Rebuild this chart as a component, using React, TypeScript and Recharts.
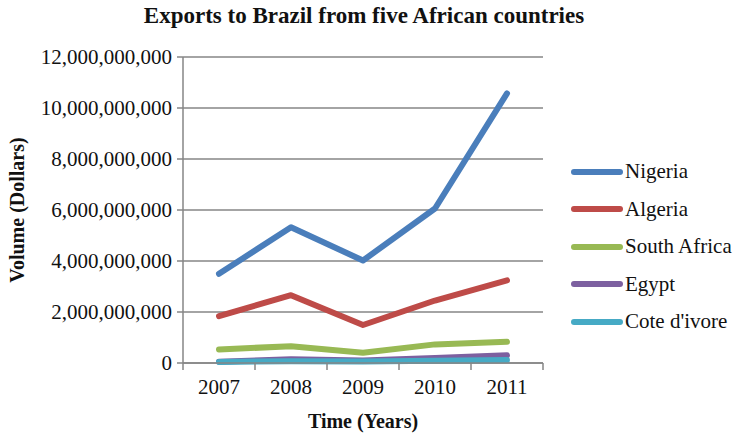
import React from "react";
import { LineChart, Line, XAxis, YAxis, CartesianGrid, Legend } from "recharts";

const years = [2007, 2008, 2009, 2010, 2011];
const nigeria = [3.5e9, 5.32e9, 4.02e9, 6.06e9, 10.57e9];
const algeria = [1.84e9, 2.66e9, 1.49e9, 2.45e9, 3.24e9];
const southAfrica = [0.53e9, 0.66e9, 0.4e9, 0.73e9, 0.83e9];
const egypt = [0.05e9, 0.15e9, 0.1e9, 0.2e9, 0.3e9];
const coteDivoire = [0.04e9, 0.07e9, 0.06e9, 0.09e9, 0.12e9];
const yTicks = [0, 2e9, 4e9, 6e9, 8e9, 10e9, 12e9];
const xTicks = [2006.5, 2007, 2007.5, 2008, 2008.5, 2009, 2009.5, 2010, 2010.5, 2011, 2011.5];

const series = [
  { key: "Nigeria", values: nigeria, color: "#4A7EBB" },
  { key: "Algeria", values: algeria, color: "#BE4B48" },
  { key: "South Africa", values: southAfrica, color: "#98B954" },
  { key: "Egypt", values: egypt, color: "#7D60A0" },
  { key: "Cote d'ivore", values: coteDivoire, color: "#46AAC5" },
];

const data = years.map((year, i) => {
  const row: Record<string, number> = { year };
  series.forEach((s) => {
    row[s.key] = s.values[i];
  });
  return row;
});

const FONT = "'Liberation Serif', 'Times New Roman', serif";
const AXIS = "#868686";

const XTick = (props: any) => {
  const { x, y, payload } = props;
  const v = payload.value as number;
  if (Number.isInteger(v)) {
    return (
      <text x={x} y={y + 31} textAnchor="middle" fontFamily={FONT} fontSize={21} fill="#111">
        {v}
      </text>
    );
  }
  return <line x1={x} x2={x} y1={y} y2={y + 7} stroke={AXIS} strokeWidth={1.5} />;
};

const fmt = (v: number) => v.toLocaleString("en-US");

const LegendContent = () => (
  <div style={{ fontFamily: FONT, fontSize: 21, color: "#111" }}>
    {series.map((s) => (
      <div key={s.key} style={{ display: "flex", alignItems: "center", height: 37.5 }}>
        <svg width={54} height={10} style={{ marginRight: 1 }}>
          <line x1={4} x2={50} y1={5} y2={5} stroke={s.color} strokeWidth={6} strokeLinecap="round" />
        </svg>
        <span>{s.key}</span>
      </div>
    ))}
  </div>
);

export default function App() {
  return (
    <div style={{ position: "absolute", left: 0, top: 0, width: 738, height: 434, background: "#fff" }}>
      <div
        style={{
          position: "absolute",
          left: 0,
          top: 3,
          width: 738,
          textAlign: "center",
          fontFamily: FONT,
          fontWeight: "bold",
          fontSize: 23,
          color: "#111",
          paddingRight: 10,
          boxSizing: "border-box",
        }}
      >
        Exports to Brazil from five African countries
      </div>
      <LineChart width={738} height={434} data={data} margin={{ top: 57, right: 195, bottom: 0, left: 0 }}>
        <CartesianGrid vertical={false} stroke={AXIS} strokeWidth={1.5} />
        <XAxis
          dataKey="year"
          type="number"
          domain={[2006.5, 2011.5]}
          ticks={xTicks}
          interval={0}
          height={71}
          tickSize={0}
          tickMargin={0}
          tickLine={false}
          axisLine={{ stroke: AXIS, strokeWidth: 1.5 }}
          tick={<XTick />}
          label={{
            value: "Time (Years)",
            position: "insideBottom",
            offset: 6,
            style: { fontFamily: FONT, fontWeight: "bold", fontSize: 20, fill: "#111" },
          }}
        />
        <YAxis
          width={183}
          domain={[0, 12e9]}
          ticks={yTicks}
          tickFormatter={fmt}
          tickSize={6}
          tickMargin={5}
          tickLine={{ stroke: AXIS, strokeWidth: 1.5 }}
          axisLine={{ stroke: AXIS, strokeWidth: 1.5 }}
          tick={{ fontFamily: FONT, fontSize: 21, fill: "#111" }}
          label={{
            value: "Volume (Dollars)",
            angle: -90,
            position: "insideLeft",
            offset: 17,
            style: { fontFamily: FONT, fontWeight: "bold", fontSize: 20, fill: "#111", textAnchor: "middle" },
          }}
        />
        <Legend
          layout="vertical"
          align="center"
          verticalAlign="middle"
          wrapperStyle={{ left: 570, top: 153, width: 168 }}
          content={<LegendContent />}
        />
        {series.map((s) => (
          <Line
            key={s.key}
            dataKey={s.key}
            stroke={s.color}
            strokeWidth={6}
            strokeLinecap="round"
            strokeLinejoin="round"
            dot={false}
            activeDot={false}
            isAnimationActive={false}
          />
        ))}
      </LineChart>
    </div>
  );
}
